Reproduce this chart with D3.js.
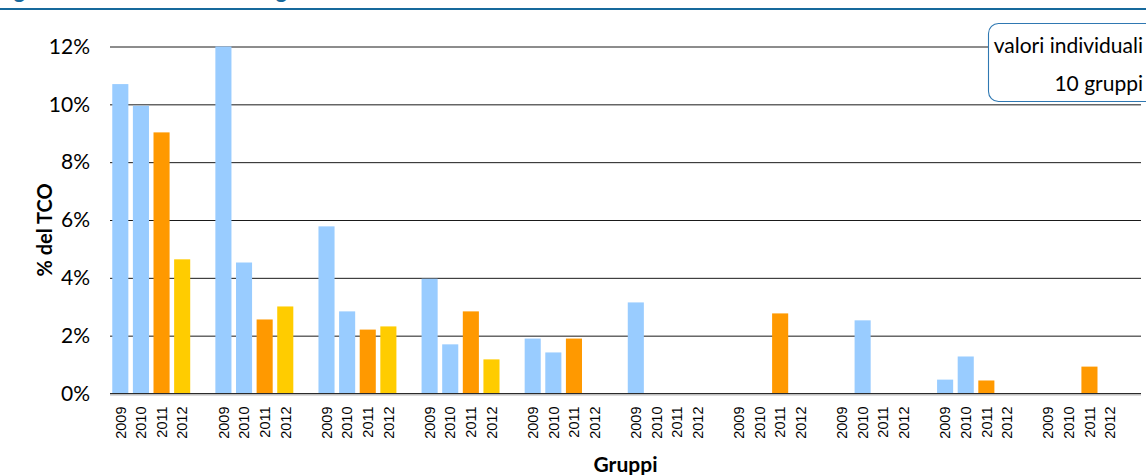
<!DOCTYPE html>
<html>
<head>
<meta charset="utf-8">
<script src="https://cdn.jsdelivr.net/npm/d3@7"></script>
<style>
  html, body { margin: 0; padding: 0; background: #fff; }
  svg { display: block; }
</style>
</head>
<body>
<svg id="chart" width="1146" height="475"></svg>
<script>
// ---- data -------------------------------------------------------------
const groupIds = ["G1", "G2", "G3", "G4", "G5", "G6", "G7", "G8", "G9", "G10"];
const years = ["2009", "2010", "2011", "2012"];
// share of TCO (%) per group, one array per year (null = no value)
const share2009 = [10.70, 12.00, 5.78, 3.97, 1.90, 3.15, null, null, 0.48, null];
const share2010 = [9.95, 4.53, 2.84, 1.70, 1.42, null, null, 2.53, 1.28, null];
const share2011 = [9.03, 2.56, 2.21, 2.84, 1.90, null, 2.77, null, 0.45, 0.93];
const share2012 = [4.64, 3.01, 2.32, 1.18, null, null, null, null, null, null];
const yTickValues = [0, 2, 4, 6, 8, 10, 12];
const yearColors = ["#99CCFF", "#99CCFF", "#FF9900", "#FFCC00"];

const titleText = "Figura 10: Incidenza dei costi di Storage sul TCO";
const xTitle = "Gruppi";
const yTitle = "% del TCO";
const noteLines = ["valori individuali", "10 gruppi"];

// ---- layout -----------------------------------------------------------
const svg = d3.select("#chart");
const plot = { left: 110, right: 1141, top: 46.5, bottom: 393.5 };
const SPACER = "_";

const seriesByYear = [share2009, share2010, share2011, share2012];

// one slot per year plus an empty slot closing each group
const slotKeys = [];
groupIds.forEach(g => {
  years.forEach(yr => slotKeys.push(g + "|" + yr));
  slotKeys.push(g + "|" + SPACER);
});

const x = d3.scaleBand()
  .domain(slotKeys)
  .range([plot.left, plot.right])
  .paddingInner(0.22)
  .paddingOuter(0.11);

const y = d3.scaleLinear()
  .domain([0, 12])
  .range([plot.bottom, plot.top]);

// ---- title strip ------------------------------------------------------
const title = svg.append("text")
  .attr("x", 0)
  .attr("y", -2)
  .attr("font-family", "Lato, sans-serif")
  .attr("font-weight", "bold")
  .attr("font-size", 22)
  .attr("fill", "#17699C")
  .text(titleText);
{
  const first = titleText.indexOf("g");
  const second = titleText.indexOf("g", first + 1);
  const gx = title.node().getStartPositionOfChar(second).x;
  title.attr("letter-spacing", ((276 - gx) / second).toFixed(3));
}
svg.append("rect")
  .attr("x", 0).attr("y", 8)
  .attr("width", 1146).attr("height", 2)
  .attr("fill", "#17699C");

// ---- grid + y axis ----------------------------------------------------
const yAxis = svg.append("g")
  .attr("transform", `translate(${plot.left},0)`)
  .call(d3.axisLeft(y)
    .tickValues(yTickValues)
    .tickFormat(d => d + "%")
    .tickSize(-(plot.right - plot.left))
    .tickPadding(20));
yAxis.select(".domain").remove();
yAxis.selectAll(".tick line")
  .attr("stroke", "#1a1a1a")
  .attr("stroke-width", 1);
yAxis.selectAll(".tick text")
  .attr("font-family", "Lato, sans-serif")
  .attr("font-size", 21)
  .attr("fill", "#000");

// ---- bars -------------------------------------------------------------
const barData = [];
groupIds.forEach((g, gi) => {
  years.forEach((yr, yi) => {
    const v = seriesByYear[yi][gi];
    if (v != null) barData.push({ key: g + "|" + yr, value: v, yi });
  });
});

svg.append("g")
  .selectAll("rect")
  .data(barData)
  .join("rect")
  .attr("x", d => x(d.key))
  .attr("width", x.bandwidth())
  .attr("y", d => y(d.value))
  .attr("height", d => y(0) - y(d.value))
  .attr("fill", d => yearColors[d.yi]);

// ---- x axis -----------------------------------------------------------
svg.append("line")
  .attr("x1", plot.left).attr("x2", plot.right)
  .attr("y1", plot.bottom + 1.5).attr("y2", plot.bottom + 1.5)
  .attr("stroke", "#cfcfcf").attr("stroke-width", 1.5);
svg.append("line")
  .attr("x1", plot.left).attr("x2", plot.right)
  .attr("y1", plot.bottom).attr("y2", plot.bottom)
  .attr("stroke", "#2a2a2a").attr("stroke-width", 1);

const xAxis = svg.append("g")
  .attr("transform", `translate(0,${plot.bottom})`)
  .call(d3.axisBottom(x)
    .tickValues(slotKeys.filter(k => !k.endsWith(SPACER)))
    .tickFormat(k => k.split("|")[1])
    .tickSize(0));
xAxis.select(".domain").remove();
xAxis.selectAll(".tick text")
  .attr("transform", "rotate(-90)")
  .attr("text-anchor", "end")
  .attr("x", -13)
  .attr("y", 0)
  .attr("dy", "0.36em")
  .attr("font-family", "'Liberation Sans', Arial, sans-serif")
  .attr("font-size", 14.5)
  .attr("fill", "#000");

// ---- axis titles ------------------------------------------------------
svg.append("text")
  .attr("x", (plot.left + plot.right) / 2)
  .attr("y", 472)
  .attr("text-anchor", "middle")
  .attr("font-family", "Lato, sans-serif")
  .attr("font-weight", "bold")
  .attr("font-size", 21)
  .attr("fill", "#000")
  .text(xTitle);

svg.append("text")
  .attr("transform", "translate(52,230) rotate(-90)")
  .attr("text-anchor", "middle")
  .attr("font-family", "Lato, sans-serif")
  .attr("font-weight", "bold")
  .attr("font-size", 20)
  .attr("fill", "#000")
  .text(yTitle);

// ---- note box ---------------------------------------------------------
const note = svg.append("g");
note.append("rect")
  .attr("x", 988.5).attr("y", 23.5)
  .attr("width", 200).attr("height", 78)
  .attr("rx", 10).attr("ry", 10)
  .attr("fill", "#fff")
  .attr("stroke", "#2f78b2")
  .attr("stroke-width", 1.1);
note.selectAll("text")
  .data(noteLines)
  .join("text")
  .attr("x", 1143)
  .attr("y", (d, i) => 53 + i * 38)
  .attr("text-anchor", "end")
  .attr("font-family", "Lato, sans-serif")
  .attr("font-size", 21)
  .attr("fill", "#000")
  .text(d => d);
</script>
</body>
</html>
